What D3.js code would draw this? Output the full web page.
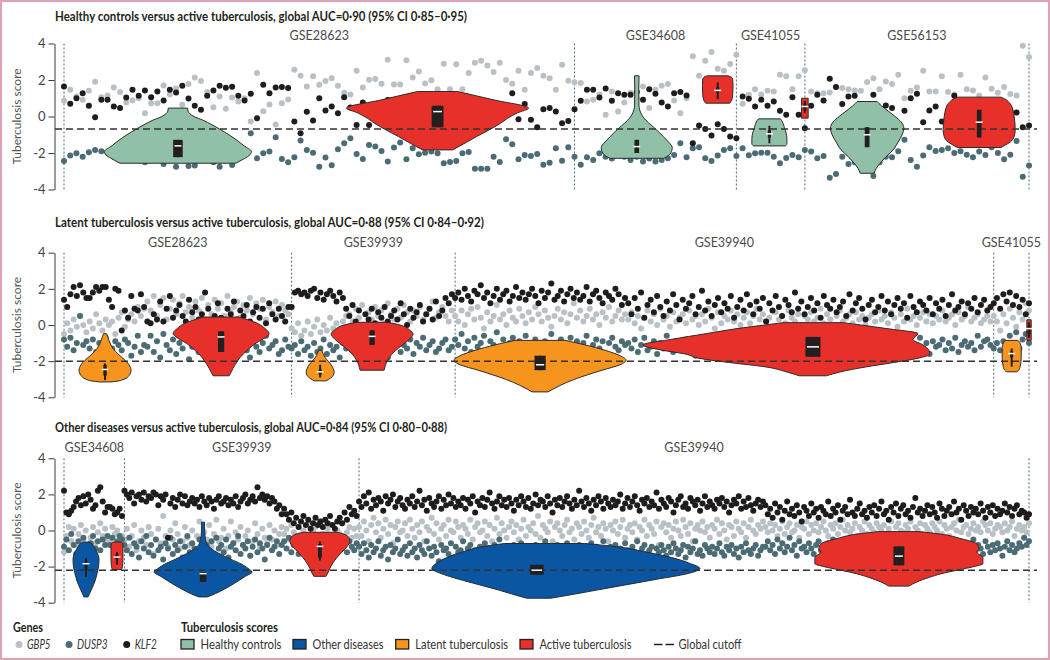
<!DOCTYPE html>
<html><head><meta charset="utf-8">
<script src="https://cdn.jsdelivr.net/npm/d3@7/dist/d3.min.js"></script>
<style>
html,body{margin:0;padding:0;background:#fff;}
svg{display:block;}
text{font-family:Lato,"Open Sans",sans-serif;}
</style></head><body>
<svg id="chart" width="1050" height="660"></svg>
<script>
// ================= DATA =================
const yTicks=[-4,-2,0,2,4];
const geneNames=["GBP5","DUSP3","KLF2"];
const groupNames=["Healthy controls","Other diseases","Latent tuberculosis","Active tuberculosis"];
const cutoffLabel="Global cutoff";
const yLabel="Tuberculosis score";

// ---- Panel 1: healthy controls vs active TB ----
const p1Title="Healthy controls versus active tuberculosis, global AUC=0·90 (95% CI 0·85–0·95)";
const p1Cutoff=-0.68;
const p1Datasets=[["GSE28623",0,82],["GSE34608",82,108],["GSE41055",108,119],["GSE56153",119,155]];
const p1Separators=[0,82,108,119,155];
const p1GBP5=[0.86,1.47,1.1,0.92,1.41,1.9,1.06,1.15,1.59,1.34,
0.77,0.88,1.0,0.18,0.73,0.73,1.70,1.2,1.54,0.64,
1.78,2.14,1.94,1.34,0.51,1.10,0.42,1.04,0.82,1.0,
-0.27,2.38,0.29,0.66,-0.44,0.73,0.93,2.56,2.23,1.65,
2.2,1.74,1.94,2.1,1.68,1.3,1.2,2.51,1.59,2.01,
2.05,1.79,3.11,1.76,1.76,3.08,2.14,2.47,1.81,1.99,
1.5,2.89,1.5,2.86,1.5,2.38,2.95,3.06,2.8,2.44,
2.95,2.0,1.8,2.51,1.47,2.38,2.66,2.23,2.1,1.47,
2.84,1.96,1.87,1.83,0.82,0.92,1.2,0.09,1.37,0.27,
0.77,1.3,1.0,1.65,0.46,1.47,1.68,1.78,0.88,0.18,
1.0,3.3,2.23,3.06,3.53,2.62,2.51,2.88,3.39,0.7,
1.19,1.5,1.2,1.41,1.37,2.29,2.2,1.5,2.2,2.53,
1.37,1.28,1.28,1.32,1.6,1.56,1.5,1.43,1.41,1.89,
2.1,1.5,1.92,1.78,2.29,1.0,1.41,1.59,2.51,1.37,
1.37,2.2,1.34,1.2,2.29,1.5,1.43,1.14,2.14,1.52,
1.3,1.61,1.23,1.15,3.88,3.26];
const p1DUSP3=[-2.44,-2.14,-2.01,-2.2,-1.96,-1.83,-1.9,-2.0,-2.2,-2.3,
-2.1,-2.4,-2.2,-2.5,-2.3,-2.1,-2.6,-2.4,-2.75,-2.3,
-2.71,-2.69,-2.4,-2.2,-2.5,-2.75,-2.3,-2.66,-2.2,-2.1,
-0.92,-2.29,-2.01,-1.92,-1.14,-2.33,-2.51,-2.23,-1.32,-1.83,
-1.98,-2.75,-2.25,-2.67,-1.79,-1.47,-1.19,-2.05,-2.33,-1.56,
-1.65,-1.89,-2.47,-1.70,-1.43,-2.34,-1.74,-2.07,-1.98,-1.92,
-2.01,-2.56,-2.49,-2.44,-2.01,-1.94,-2.86,-2.86,-2.86,-2.2,
-2.49,-1.25,-1.52,-2.34,-2.11,-2.16,-2.05,-2.64,-2.53,-1.74,
-2.42,-1.68,-2.2,-2.64,-2.23,-2.38,-2.01,-2.2,-2.3,-2.1,
-2.2,-2.38,-2.2,-2.47,-2.3,-2.47,-2.38,-2.29,-2.11,-1.47,
-2.23,-1.74,-1.68,-2.29,-2.44,-2.14,-1.83,-1.74,-2.16,-1.74,
-2.12,-2.01,-1.98,-1.98,-2.2,-2.56,-2.27,-2.11,-2.23,-1.83,
-1.92,-2.29,-2.16,-3.35,-3.15,-2.2,-2.6,-2.5,-2.3,-2.0,
-3.26,-2.5,-2.2,-2.23,-1.9,-1.28,-2.38,-2.75,-2.14,-1.68,
-1.89,-1.83,-1.74,-2.0,-1.9,-2.1,-2.23,-1.92,-2.11,-1.68,
-2.0,-2.34,-2.1,-1.34,-3.3,-2.69];
const p1KLF2=[1.65,0.70,1.0,1.28,0.59,-0.04,0.92,0.92,0.55,0.46,
1.04,1.47,1.14,1.43,1.06,1.37,0.88,1.47,1.32,1.68,
0.99,0.59,0.37,1.14,1.43,1.68,1.58,1.63,1.14,0.88,
1.25,-0.09,1.74,1.28,1.59,1.61,1.56,-0.27,-0.92,0.26,
-0.22,1.0,0.33,0.55,0.18,1.06,0.5,-0.46,0.77,-0.46,
0.6,0.2,0.9,0.4,0.1,0.8,0.3,1.0,0.5,0.2,
0.7,0.4,0.9,0.1,0.6,0.3,0.8,0.5,0.2,0.5,
0.4,0.4,1.28,-0.15,0.68,-0.18,-0.59,0.40,0.46,0.27,
-0.37,-0.24,0.40,0.86,1.47,1.47,1.04,1.54,0.86,1.28,
1.19,1.19,1.34,0.92,1.5,1.25,0.77,0.55,1.28,1.34,
1.15,-1.47,-0.49,-0.68,-1.04,-0.42,-0.68,-1.1,-1.19,1.1,
0.97,0.55,0.92,0.59,0.82,0.31,0.09,1.06,0.09,-0.64,
0.59,1.19,0.88,2.07,1.61,0.68,1.1,1.14,0.5,0.3,
1.19,0.2,0.6,0.46,-0.51,0.31,1.0,1.25,-0.31,0.33,
0.55,-0.27,0.3,1.14,0.4,0.1,0.8,-0.2,0.5,0.2,
0.7,0.0,0.3,0.22,-0.59,-0.49];
// violins: shape = [score, half-density] or [score, left density, right density]; box = [low whisker, q1, median, q3, high whisker]
const p1Violins=[
 {group:"Healthy controls",at:18.3,shape:[[0.46,9.7],[0.3,10],[0.15,12],[0,16],[-0.2,25],[-0.45,34],[-0.7,42],[-1.0,51],[-1.3,59],[-1.6,66],[-1.92,73.5],[-2.15,71],[-2.35,65],[-2.56,58]],box:[-2.23,-2.23,-1.61,-1.28,-1.28]},
 {group:"Active tuberculosis",at:60.0,shape:[[1.37,20],[0.9,57],[0.46,91],[0.2,80],[-0.1,70],[-0.37,63],[-0.75,51],[-1.1,39],[-1.5,26],[-1.83,15]],box:[-0.59,-0.59,0.27,0.59,0.59]},
 {group:"Healthy controls",at:92.0,shape:[[2.23,2.3],[1.5,2],[0.6,2.2],[0.2,4],[-0.2,9],[-0.5,15],[-0.9,23],[-1.3,30],[-1.7,35.5],[-2.0,34],[-2.2,30],[-2.29,27]],box:[-2.0,-2.0,-1.65,-1.28,-1.28]},
 {group:"Active tuberculosis",at:105.0,shape:[[2.23,10],[2.18,13],[2.05,15],[1.7,15.3],[1.2,15],[0.9,14],[0.73,12]],box:[0.95,1.3,1.43,1.6,1.87]},
 {group:"Healthy controls",at:113.3,shape:[[-0.13,11],[-0.2,12],[-0.6,15],[-1.2,17.5],[-1.5,17.5],[-1.61,16]],box:[-1.47,-1.15,-0.95,-0.75,-0.51]},
 {group:"Active tuberculosis",at:119.0,shape:[[1.0,3.3],[-0.09,3.3]],box:[0.2,0.35,0.55,0.7,0.85]},
 {group:"Healthy controls",at:129.0,shape:[[0.82,10],[0.6,14],[0.3,21],[0,28],[-0.3,34],[-0.64,36.7],[-1.0,35],[-1.4,31],[-1.83,26],[-2.2,19],[-2.56,13],[-2.85,9],[-3.11,7]],box:[-1.68,-1.68,-1.0,-0.59,-0.59]},
 {group:"Active tuberculosis",at:147.0,shape:[[1.06,21.7],[0.95,26],[0.7,31],[0.3,34],[0,35],[-0.73,36],[-1.1,35],[-1.4,31],[-1.6,25],[-1.7,21.7]],box:[-1.15,-1.15,-0.31,0.37,0.37]}
];

// ---- Panel 2: latent vs active TB ----
const p2Title="Latent tuberculosis versus active tuberculosis, global AUC=0·88 (95% CI 0·84–0·92)";
const p2Cutoff=-2.0;
const p2Datasets=[["GSE28623",0,71],["GSE39939",71,122],["GSE39940",122,290],["GSE41055",290,301]];
const p2Separators=[0,71,122,290,301];
const p2GBP5=[-0.5,0.1,-0.3,0.3,-0.1,0.5,0.0,-0.4,0.2,-0.2,0.6,0.1,-0.3,0.3,0.0,0.2,-0.5,0.4,0.7,-0.1,0.3,0.6,0.2,1.0,0.5,0.9,
1.3,0.8,1.6,0.5,1.1,1.5,0.3,0.9,1.4,0.6,1.2,1.6,0.7,1.0,0.4,1.3,0.8,1.5,0.2,1.1,0.6,1.4,0.9,1.2,0.5,1.6,0.7,1.0,1.3,0.4,1.1,0.8,1.5,0.6,1.2,0.9,1.4,0.3,1.0,0.7,1.3,0.5,1.1,0.8,0.6,
-0.2,-0.4,0.1,-0.6,-0.3,0.2,-0.5,-0.1,0.3,-0.4,0.0,-0.3,0.4,-0.2,0.1,-0.5,0.2,0.5,
0.6,0.2,0.9,0.4,1.1,0.0,0.7,0.3,1.0,0.5,0.8,0.1,1.2,0.6,0.3,0.9,0.4,1.1,0.7,0.2,0.8,0.5,1.0,0.3,0.6,0.9,1.3,0.4,0.7,1.0,0.5,0.2,0.8,
0.5,0.2,0.8,0.0,0.6,0.9,0.3,1.0,0.4,-0.2,0.7,0.2,0.5,1.1,0.3,0.6,0.0,0.8,0.4,0.2,0.9,0.5,0.1,0.7,0.3,1.0,0.6,0.2,0.8,0.4,-0.1,0.5,0.9,0.3,0.7,0.1,0.6,1.2,0.4,0.8,0.2,0.5,0.9,0.3,0.6,0.0,0.7,0.4,1.0,0.2,0.5,0.8,0.3,0.6,
0.3,0.7,0.1,0.5,-0.2,0.4,0.8,0.2,0.6,0.0,0.9,0.3,0.5,-0.1,0.7,0.2,0.4,0.6,0.1,
0.8,0.3,0.5,0.0,0.6,0.2,0.9,0.4,-0.2,0.7,0.1,0.5,0.3,0.8,0.2,0.6,0.0,0.4,0.7,
0.1,0.5,0.9,0.3,0.6,0.2,0.4,-0.1,0.7,0.3,0.5,0.1,0.8,0.4,0.2,0.6,0.0,0.5,0.3,
0.7,0.2,0.4,0.9,0.1,0.6,0.3,-0.3,0.5,0.8,0.2,0.4,0.6,0.1,0.7,0.3,0.5,0.0,0.4,
0.6,0.2,0.8,0.3,0.5,0.1,0.7,0.4,-0.1,0.6,0.2,0.9,0.3,0.5,0.0,0.4,0.7,0.2,0.6,
0.1,0.5,0.3,0.8,0.2,0.4,0.6,0.0,0.7,0.3,0.5,1.0,0.2,0.4,0.6,0.1,0.3,0.5,0.2,
0.5,0.2,-0.3,0.6,0.1,0.9,0.4,-0.1,0.7,0.3,1.2,0.8];
const p2DUSP3=[-0.8,-1.2,-0.7,-1.4,-1.0,0.5,-1.1,-0.9,-1.3,-0.8,-1.5,-1.0,-1.2,-0.7,-1.6,-1.3,-0.9,-1.1,-1.4,-0.8,-1.0,-1.7,-1.2,-0.6,-1.5,-1.1,
-1.2,-0.6,-1.5,-0.9,-1.8,-0.5,-1.1,-1.4,-0.8,-1.6,-1.0,-1.3,-0.7,-1.9,-1.2,-0.9,-1.5,-1.1,-0.6,-1.4,-1.0,-1.7,-0.8,-1.3,-1.1,-1.6,-0.9,-1.2,-1.5,-0.7,-1.0,-1.4,-1.8,-0.8,-1.2,-1.5,-1.0,-0.6,-1.3,-1.1,-0.9,-1.6,-1.4,-0.8,-1.2,
-1.3,-1.1,-1.6,-0.9,-1.4,-1.2,-1.7,-1.0,-1.5,-1.3,-0.8,-1.6,-1.1,-1.4,-1.2,-1.8,-1.0,-1.3,
-0.9,-1.3,-0.6,-1.5,-1.0,-1.2,-0.8,-1.6,-1.1,-0.7,-1.4,-1.0,-1.8,-0.9,-1.2,-0.6,-1.5,-1.1,-1.3,-0.8,-1.6,-1.0,-1.2,-0.7,-1.4,-1.1,-0.9,-1.5,-1.3,-1.0,-0.8,-1.4,-1.2,
-0.8,-1.1,-0.5,-1.3,-0.9,-1.5,-0.7,-1.2,-1.0,-0.6,-1.4,-0.9,-1.1,-0.4,-1.3,-0.8,-1.6,-1.0,-0.7,-1.2,-0.9,-1.5,-0.6,-1.1,-1.3,-0.8,-1.0,-1.7,-0.9,-1.2,-0.5,-1.4,-1.0,-0.8,-1.3,-1.1,-0.7,-1.5,-0.9,-1.2,-1.0,-0.6,-1.4,-1.1,-0.8,-1.3,-0.9,-1.6,-1.0,-0.7,-1.2,-1.4,-0.9,-1.1,
-1.0,-1.3,-0.8,-1.5,-1.1,-0.7,-1.4,-1.2,-0.9,-1.6,-1.0,-1.3,-0.6,-1.2,-1.5,-0.9,-1.1,-1.4,-0.8,
-1.2,-1.0,-1.7,-0.9,-1.3,-1.1,-0.7,-1.5,-1.0,-1.2,-0.8,-1.4,-1.1,-0.9,-1.6,-1.0,-1.3,-0.6,-1.2,
-1.5,-0.9,-1.1,-1.3,-0.8,-1.4,-1.0,-1.2,-1.8,-0.9,-1.1,-1.5,-0.7,-1.3,-1.0,-1.2,-0.8,-1.6,-1.1,
-0.9,-1.4,-1.0,-1.2,-0.7,-1.3,-1.5,-0.9,-1.1,-1.0,-1.4,-0.8,-1.2,-1.6,-1.0,-1.3,-0.9,-1.1,-1.5,
-0.8,-1.2,-1.0,-1.4,-0.9,-1.7,-1.1,-1.3,-0.8,-1.0,-1.5,-1.2,-0.9,-1.4,-1.1,-0.7,-1.3,-1.0,-1.6,
-0.9,-1.2,-1.1,-0.8,-1.4,-1.0,-1.3,-0.7,-1.5,-1.1,-0.9,-1.2,-1.0,-1.4,-0.6,-1.2,-0.9,-0.8,-1.1,
-1.3,-1.0,-1.4,-0.9,-1.2,-0.6,-1.1,-0.4,-1.3,-0.8,-0.5,-1.0];
const p2KLF2=[1.4,1.0,1.7,2.1,1.6,2.2,1.8,1.5,1.5,1.8,2.1,1.9,2.1,2.1,1.4,1.0,2.0,1.9,-0.3,0.8,0.4,1.6,0.9,0.8,1.7,1.0,
0.2,0.1,0.6,0.3,1.3,0.2,0.9,1.6,0.4,0.8,1.1,0.5,0.2,1.4,0.7,1.0,0.3,0.6,1.8,0.9,0.2,0.5,1.2,0.4,0.1,0.9,0.6,1.3,0.3,0.8,0.5,1.1,0.2,0.7,1.0,0.4,0.9,0.1,1.2,0.6,0.3,0.9,0.5,0.2,1.0,
1.0,1.8,1.9,1.7,1.8,1.6,1.9,2.0,1.5,1.8,1.4,1.7,1.9,1.6,1.3,1.8,1.5,0.9,
0.5,1.1,0.2,0.8,-0.2,0.6,0.3,0.9,0.1,0.7,0.4,1.0,0.2,0.5,0.8,0.3,1.2,0.6,0.0,0.9,0.4,0.7,1.1,0.2,0.6,0.9,0.3,1.3,0.5,0.8,1.5,1.2,1.7,
1.5,1.8,1.4,2.0,1.6,1.3,1.9,1.7,2.2,1.5,1.8,1.2,1.6,2.0,1.4,1.7,1.9,1.3,1.6,2.1,1.5,1.8,1.4,1.7,2.0,1.6,1.2,1.9,1.5,1.8,2.3,1.4,1.6,1.9,1.3,1.7,2.0,1.5,1.8,1.4,1.6,2.1,1.3,1.7,1.9,1.5,1.2,1.8,1.6,1.4,2.0,1.7,1.1,1.5,
1.2,0.6,1.5,0.9,1.8,0.4,1.1,1.4,0.7,1.6,1.0,0.5,1.3,0.8,1.7,1.1,0.3,1.4,0.9,
1.2,1.6,0.6,1.0,1.9,0.8,1.3,0.5,1.1,1.5,0.7,1.2,0.9,1.6,0.4,1.0,1.4,0.8,1.7,
1.1,0.6,1.3,0.9,1.5,0.2,1.2,0.8,1.6,1.0,0.5,1.4,1.1,0.7,1.8,0.9,1.3,0.6,1.0,
1.5,0.8,1.2,0.4,1.6,1.1,0.9,1.4,0.7,1.0,1.3,0.5,1.7,0.8,1.2,1.5,0.9,0.3,1.1,
1.4,0.7,1.0,1.6,0.8,1.3,0.6,1.1,1.5,0.9,1.2,0.4,1.6,1.0,0.7,1.3,1.1,0.8,1.5,
0.6,1.2,0.9,1.4,0.5,1.1,1.7,0.8,1.0,1.3,0.6,1.2,0.9,1.5,0.7,1.1,1.4,0.8,1.0,
1.2,1.5,0.9,1.7,1.3,1.8,1.1,1.6,1.0,1.4,0.6,1.2];
const p2Violins=[
 {group:"Latent tuberculosis",at:12.8,shape:[[-0.48,1.5],[-0.7,3],[-1.0,5],[-1.3,8],[-1.6,13],[-1.9,19],[-2.2,24],[-2.5,26],[-2.8,24],[-3.0,19],[-3.1,13],[-3.15,6]],box:[-3.05,-2.8,-2.46,-2.2,-2.13]},
 {group:"Active tuberculosis",at:49.0,shape:[[0.44,18],[0.3,26],[0.1,36],[-0.2,44],[-0.48,48],[-0.7,44],[-1.0,35],[-1.4,26],[-1.8,19],[-2.2,14],[-2.6,10],[-2.81,8]],box:[-1.49,-1.49,-0.66,-0.35,-0.35]},
 {group:"Latent tuberculosis",at:79.9,shape:[[-1.4,1.5],[-1.6,3],[-1.8,5],[-2.0,8],[-2.2,11],[-2.4,13],[-2.6,14],[-2.8,13],[-2.95,10],[-3.09,6]],box:[-2.9,-2.75,-2.59,-2.45,-2.2]},
 {group:"Active tuberculosis",at:96.1,shape:[[0.15,15],[0.0,28],[-0.3,38],[-0.5,41],[-0.8,37],[-1.2,28],[-1.6,20],[-2.0,15],[-2.5,12]],box:[-1.1,-1.1,-0.63,-0.3,-0.3]},
 {group:"Latent tuberculosis",at:148.5,shape:[[-0.85,25],[-1.1,45],[-1.4,65],[-1.7,80],[-1.95,86],[-2.2,80],[-2.5,62],[-2.8,45],[-3.1,30],[-3.4,18],[-3.7,8]],box:[-2.5,-2.5,-2.2,-1.7,-1.7]},
 {group:"Active tuberculosis",at:233.6,shape:[[0.13,30,30],[0.0,48,48],[-0.2,76,74],[-0.47,106,105],[-0.8,142,100],[-1.1,170,110],[-1.4,150,116],[-1.6,128,117],[-1.85,113,104],[-2.1,80,78],[-2.31,48,54],[-2.6,26,27],[-2.81,13.5,13.5]],box:[-1.76,-1.76,-1.21,-0.66,-0.66]},
 {group:"Latent tuberculosis",at:295.6,shape:[[-0.85,6],[-0.95,8],[-1.3,9.5],[-1.8,9.5],[-2.3,8.5],[-2.5,7],[-2.59,5]],box:[-2.3,-1.8,-1.58,-1.45,-1.3]},
 {group:"Active tuberculosis",at:301,shape:[[0.29,2.2],[-0.85,2.2]],box:[-0.7,-0.5,-0.2,0.0,0.15]}
];

// ---- Panel 3: other diseases vs active TB ----
const p3Title="Other diseases versus active tuberculosis, global AUC=0·84 (95% CI 0·80–0·88)";
const p3Cutoff=-2.2;
const p3Datasets=[["GSE34608",0,25],["GSE39939",25,122],["GSE39940",122,399]];
const p3Separators=[0,25,122,399];
const p3GBP5=[-1.2,-0.3,0.2,-0.6,0.1,-0.8,-0.2,0.3,-0.5,0.0,-0.9,-0.4,0.2,-0.7,-0.1,0.4,-0.3,0.1,-0.6,
-0.5,0.2,-0.2,0.0,-0.6,-0.3,
-0.5,0.1,-0.9,-0.3,0.3,-1.1,-0.6,0.0,-0.4,-0.8,0.2,-0.2,-1.3,-0.5,0.1,-0.7,0.8,-0.3,-0.9,0.0,-0.5,0.4,-0.2,-1.0,-0.6,0.2,-0.4,-0.8,0.0,-1.2,-0.3,0.5,-0.7,-0.1,-0.5,0.3,-0.9,-0.2,0.6,-0.6,-0.4,0.1,-1.0,-0.3,0.5,-0.7,-0.1,-0.5,0.2,-0.8,-0.3,0.0,-1.4,-0.6,0.4,-0.2,-0.9,0.1,-0.4,-0.7,0.3,-0.5,0.0,-0.8,-0.2,0.2,
-0.2,0.1,-0.5,0.3,-0.1,-0.7,0.2,-0.4,0.0,-0.3,0.4,-0.6,-0.1,0.2,-0.4,0.5,-0.2,-0.8,0.1,-0.3,0.3,-0.5,0.0,-0.2,0.4,-0.6,-0.1,0.2,-0.4,0.1,-0.3,
0.2,-0.3,0.5,0.0,-0.6,0.3,0.7,-0.1,0.4,-0.4,0.1,0.6,-0.2,0.3,-0.7,0.2,0.5,-0.1,0.0,0.4,-0.3,
0.6,0.1,-0.4,0.3,-0.1,0.5,-0.6,0.2,0.0,0.7,-0.2,0.4,-0.5,0.1,0.3,-0.3,0.6,0.0,-0.1,0.5,0.2,
-0.4,0.3,0.1,-0.2,0.6,-0.5,0.2,0.4,-0.1,0.0,0.5,-0.3,0.3,-0.6,0.1,0.7,-0.2,0.4,0.0,-0.4,0.2,
0.5,-0.1,0.3,-0.5,0.1,0.6,-0.3,0.2,0.0,0.4,-0.2,0.8,-0.4,0.3,0.1,-0.1,0.5,-0.6,0.2,0.4,0.0,
-0.3,0.3,0.6,-0.1,0.1,-0.5,0.4,0.2,-0.2,0.5,0.0,-0.4,0.3,0.7,-0.1,0.2,-0.3,0.4,0.1,-0.6,0.3,
0.0,0.5,-0.2,0.2,0.6,-0.4,0.1,0.3,-0.1,0.4,-0.5,0.2,0.0,0.6,-0.3,0.3,0.1,-0.2,0.5,-0.8,0.2,
0.4,-0.1,0.3,-0.4,0.1,0.5,0.0,-0.3,0.6,0.2,-0.2,0.4,-0.6,0.1,0.3,0.0,0.5,-0.1,0.2,-0.4,0.3,
0.1,0.6,-0.2,0.4,0.0,-0.5,0.3,0.2,-0.3,0.5,0.1,-0.1,0.4,-0.4,0.2,0.6,0.0,-0.2,0.3,0.1,0.5,
0.2,-0.1,0.4,0.0,0.3,-0.3,0.1,0.5,-0.2,0.2,0.4,-0.1,0.0,0.3,-0.4,0.2,0.1,0.5,-0.2,0.3,0.0,0.4,
-0.1,0.2,0.5,0.0,-0.3,0.3,0.1,0.4,-0.2,0.2,0.6,0.0,0.3,-0.1,0.1,0.4,-0.3,0.2,0.0,0.5,-0.2,0.3,
0.1,-0.1,0.4,0.2,0.0,0.3,-0.4,0.1,0.5,-0.2,0.2,0.4,0.0,-0.1,0.3,0.1,0.5,-0.3,0.2,0.0,0.4,-0.2,
0.3,0.1,-0.1,0.4,0.2,0.0,0.5,-0.2,0.3,0.1,-0.3,0.2,0.4,0.0,0.6,-0.1,0.2,0.3,-0.2,0.1,0.4,0.0,
0.2,-0.1,0.5,0.3,0.0,0.4,-0.2,0.1,0.3,0.2,-0.1,0.4,0.0,0.2,0.5,-0.3,0.1,0.3,0.0,0.2,-0.1,0.4];
const p3DUSP3=[-0.9,-0.5,-1.1,-0.2,-0.8,-1.3,-0.6,-1.0,-0.4,-0.9,-1.2,-0.7,-0.3,-1.0,-0.6,-1.1,-0.5,-0.8,-0.3,
-0.8,-0.4,-1.0,-0.6,-0.3,-0.5,
-0.8,-1.1,-0.4,-1.3,-0.7,-0.9,-1.5,-0.6,-1.0,-0.3,-1.2,-0.8,-1.4,-0.5,-1.1,-0.9,-1.6,-0.7,-1.0,-0.4,-1.3,-0.8,-1.1,-0.6,-1.5,-0.9,-0.3,-1.2,-0.7,-1.0,-1.4,-0.5,-0.9,-1.7,-0.8,-1.1,-0.6,-1.3,-0.4,-1.0,-0.8,-1.2,-0.5,-1.5,-0.9,-0.7,-1.1,-0.3,-1.3,-0.8,-1.0,-0.6,-1.4,-0.9,-0.5,-1.2,-0.7,-1.0,-1.6,-0.8,-0.4,-1.1,-0.9,-0.6,-1.3,-0.8,
-0.6,-1.0,-0.4,-1.2,-0.8,-0.5,-1.3,-0.9,-0.6,-1.1,-0.7,-1.4,-0.5,-0.9,-1.0,-0.6,-1.2,-0.8,-0.4,-1.1,-0.7,-1.3,-0.9,-0.5,-1.0,-0.8,-1.2,-0.6,-0.9,-1.1,-0.7,
-0.9,-1.3,-0.7,-1.1,-1.5,-0.8,-1.2,-1.0,-0.6,-1.4,-1.1,-0.9,-1.6,-0.8,-1.2,-1.0,-0.5,-1.3,-1.1,-0.9,-1.4,
-0.7,-1.2,-1.0,-1.5,-0.8,-1.1,-1.3,-0.6,-1.0,-1.4,-0.9,-1.2,-1.7,-0.8,-1.1,-1.0,-1.3,-0.7,-1.5,-0.9,-1.2,
-1.1,-0.6,-1.4,-1.0,-0.8,-1.3,-1.1,-1.6,-0.9,-1.2,-0.7,-1.0,-1.4,-1.1,-0.8,-1.3,-0.5,-1.2,-1.0,-1.5,-0.9,
-1.2,-0.8,-1.1,-1.4,-0.7,-1.0,-1.3,-0.9,-1.6,-1.1,-0.8,-1.2,-1.0,-1.5,-0.6,-1.3,-0.9,-1.1,-1.4,-0.8,-1.2,
-1.0,-1.3,-0.7,-1.1,-1.5,-0.9,-1.2,-0.8,-1.4,-1.0,-1.8,-1.1,-0.7,-1.3,-0.9,-1.2,-1.0,-0.6,-1.4,-1.1,-0.9,
-1.3,-0.8,-1.2,-1.0,-1.5,-0.7,-1.1,-1.3,-0.9,-1.2,-0.6,-1.4,-1.0,-0.8,-1.3,-1.1,-0.9,-1.6,-1.0,-1.2,-0.8,
-1.1,-1.4,-0.9,-1.2,-0.7,-1.0,-1.3,-1.1,-0.8,-1.5,-0.9,-1.2,-1.0,-0.6,-1.3,-1.1,-1.4,-0.8,-1.0,-1.2,-0.9,
-1.3,-1.0,-0.7,-1.2,-1.4,-0.9,-1.1,-0.8,-1.3,-1.0,-1.5,-0.9,-1.2,-0.7,-1.1,-1.3,-1.0,-0.8,-1.4,-1.1,-0.9,
-0.9,-0.6,-1.1,-0.8,-1.3,-0.5,-1.0,-0.7,-1.2,-0.9,-0.4,-1.1,-0.8,-1.4,-0.6,-1.0,-0.9,-1.2,-0.7,-1.0,-1.3,-0.8,
-0.6,-1.1,-0.9,-1.4,-0.7,-1.0,-0.5,-1.2,-0.8,-1.1,-0.9,-0.6,-1.3,-1.0,-0.7,-1.2,-0.9,-1.5,-0.8,-1.0,-0.6,-1.1,
-1.2,-0.8,-1.0,-0.5,-1.3,-0.9,-0.7,-1.1,-1.0,-0.6,-1.4,-0.8,-1.2,-0.9,-0.7,-1.0,-1.3,-0.8,-1.1,-0.6,-0.9,-1.2,
-0.7,-1.0,-1.3,-0.8,-1.1,-0.5,-0.9,-1.2,-1.0,-0.7,-1.4,-0.9,-0.6,-1.1,-0.8,-1.3,-1.0,-0.7,-1.2,-0.9,-0.5,-1.1,
-0.8,-1.0,-1.3,-0.6,-0.9,-1.2,-0.8,-1.1,-0.7,-1.0,-1.4,-0.9,-0.6,-1.1,-0.8,-1.2,-1.0,-0.7,-0.9,-0.4,-0.8,-0.6];
const p3KLF2=[2.2,1.0,0.9,1.1,1.3,1.6,1.8,1.4,1.9,1.5,2.0,1.7,1.2,1.4,2.2,2.4,1.6,1.0,1.3,
1.3,1.2,0.9,1.0,1.2,0.8,
2.2,2.0,1.8,2.1,1.5,1.9,2.0,1.7,2.1,1.6,1.9,1.8,2.1,2.0,1.4,1.9,1.7,2.0,-0.4,1.5,1.8,1.3,1.7,2.0,1.5,1.9,1.4,1.6,1.8,1.5,1.7,1.3,1.9,1.6,1.4,1.8,1.6,1.2,1.7,1.9,1.5,1.6,1.8,1.4,1.7,1.5,1.9,1.3,1.6,1.8,2.0,1.5,1.7,1.9,1.6,2.4,1.8,2.0,1.7,1.9,1.5,1.8,1.6,1.2,1.4,0.9,
1.2,0.9,0.6,1.0,0.4,0.7,0.2,0.5,0.8,0.3,0.6,0.1,0.4,0.7,0.3,0.5,0.2,0.6,0.4,0.8,0.3,0.1,0.5,0.7,0.4,1.0,0.6,1.3,0.9,1.1,0.8,
1.6,1.3,1.9,1.5,2.1,1.2,1.7,1.4,1.8,1.6,1.1,1.9,1.5,1.7,2.0,1.3,1.6,1.8,1.4,1.2,1.7,
1.5,1.9,1.3,1.6,2.2,1.4,1.7,1.1,1.8,1.5,1.3,1.6,1.9,1.2,1.7,1.4,2.0,1.5,1.8,1.3,1.6,
1.4,1.8,1.2,1.7,1.5,1.9,1.0,1.6,1.4,1.8,1.3,1.7,2.1,1.5,1.2,1.6,1.9,1.4,1.7,1.3,1.8,
1.5,1.1,1.7,1.4,1.9,1.6,1.3,1.8,1.2,1.5,2.0,1.4,1.7,1.6,1.3,1.9,1.5,1.0,1.7,1.4,1.8,
1.3,1.6,1.9,1.5,1.2,1.7,1.4,2.2,1.6,1.3,1.8,1.5,1.1,1.7,1.4,1.9,1.6,1.2,1.8,1.5,1.3,
1.7,1.4,1.6,2.0,1.2,1.5,1.8,1.3,1.6,1.9,1.4,1.1,1.7,1.5,1.8,1.3,1.6,1.4,2.1,1.2,1.7,
1.5,1.3,1.8,1.6,1.0,1.4,1.7,1.9,1.3,1.5,1.2,1.8,1.6,1.4,1.7,1.1,1.5,1.9,1.3,1.6,1.4,
1.2,1.7,1.5,1.8,1.3,1.6,1.0,1.4,1.7,1.5,1.9,1.2,1.6,1.3,1.8,1.4,1.1,1.5,1.7,1.3,1.6,
1.4,0.9,1.2,0.7,1.5,1.0,1.3,0.6,1.1,1.6,0.9,1.2,0.8,1.4,1.0,0.5,1.3,1.1,0.8,1.5,1.0,1.2,
0.7,1.3,1.1,0.9,1.6,0.8,1.2,1.0,1.4,0.6,1.1,1.3,0.9,1.7,1.0,0.8,1.2,1.5,0.9,1.1,0.7,1.3,
1.0,1.4,0.8,1.2,1.6,0.9,1.1,0.6,1.3,1.0,1.5,0.8,1.2,1.4,0.9,1.1,0.7,1.3,1.8,1.0,1.2,0.8,
1.1,1.4,0.9,1.3,1.0,0.7,1.5,1.2,0.8,1.1,1.3,0.9,1.6,1.0,1.2,0.6,1.4,1.1,0.8,1.3,1.0,1.2,
0.9,1.5,1.1,0.7,1.3,1.0,1.4,0.8,1.2,0.9,1.1,1.5,1.0,1.3,0.8,1.2,1.4,0.9,1.1,1.0,0.7,0.9];
const p3Violins=[
 {group:"Other diseases",at:9.1,shape:[[-0.64,3],[-0.75,6],[-0.9,8],[-1.2,11],[-1.6,13],[-2.0,12.5],[-2.4,11],[-2.8,9],[-3.2,6],[-3.5,3.5],[-3.68,2]],box:[-2.58,-2.2,-1.84,-1.7,-1.53]},
 {group:"Active tuberculosis",at:21.9,shape:[[-0.64,4],[-0.7,5.5],[-0.9,6],[-1.5,6],[-2.0,5.5],[-2.17,4.5]],box:[-1.9,-1.6,-1.47,-1.3,-1.2]},
 {group:"Other diseases",at:57.5,shape:[[0.46,1.5],[0.2,1.5],[-0.3,2],[-0.7,3.5],[-0.95,7],[-1.3,17],[-1.6,28],[-1.85,38],[-2.1,45],[-2.3,49],[-2.55,42],[-2.8,35],[-3.1,26],[-3.4,16],[-3.6,8],[-3.68,4]],box:[-2.85,-2.85,-2.39,-2.3,-2.3]},
 {group:"Active tuberculosis",at:105.8,shape:[[-0.1,17],[-0.2,24],[-0.4,29],[-0.6,30],[-0.9,27],[-1.2,22],[-1.5,17],[-1.8,13],[-2.1,10],[-2.4,7.5],[-2.54,6]],box:[-1.66,-1.5,-0.88,-0.75,-0.6]},
 {group:"Other diseases",at:195.5,shape:[[-0.72,32,48],[-0.9,55,80],[-1.2,75,110],[-1.5,90,135],[-1.8,100,152],[-2.1,105,163],[-2.4,95,150],[-2.7,78,120],[-3.0,58,90],[-3.3,38,60],[-3.6,20,30],[-3.75,10,14]],box:[-2.45,-2.45,-2.2,-1.9,-1.9]},
 {group:"Active tuberculosis",at:345.2,shape:[[-0.06,20],[-0.2,42],[-0.45,62],[-0.74,78],[-1.0,80],[-1.2,78],[-1.5,84],[-1.84,84],[-2.0,75],[-2.2,58],[-2.4,42],[-2.6,30],[-2.85,18],[-3.08,10]],box:[-1.93,-1.93,-1.42,-0.88,-0.88]}
];

// ================= RENDER =================
const W=1050,H=660;
const svg=d3.select("#chart");
svg.append("rect").attr("x",1).attr("y",1).attr("width",W-2).attr("height",H-2)
  .attr("fill","#fff").attr("stroke","#e3a0b4").attr("stroke-width",2);

const colorGene=d3.scaleOrdinal().domain(geneNames).range(["#b9c1c6","#4b6c75","#1e1c1d"]);
const colorGroup=d3.scaleOrdinal().domain(groupNames).range(["#90c0a6","#0b56a3","#f7941e","#e8302a"]);
const widthScale=d3.scaleLinear().domain([0,100]).range([0,100]); // density -> px
const leftW=d=>widthScale(d[1]);
const rightW=d=>widthScale(d.length>2?d[2]:d[1]);

const layout=[
  {top:43.5,bottom:189.5,titleY:20.5,labelY:39.5,titleW:412},
  {top:252.7,bottom:397.3,titleY:226.5,labelY:246.5,titleW:429},
  {top:458.3,bottom:602.7,titleY:431.5,labelY:452,titleW:392}
];
const panels=[
  {title:p1Title,cutoff:p1Cutoff,datasets:p1Datasets,seps:p1Separators,gbp5:p1GBP5,dusp3:p1DUSP3,klf2:p1KLF2,violins:p1Violins},
  {title:p2Title,cutoff:p2Cutoff,datasets:p2Datasets,seps:p2Separators,gbp5:p2GBP5,dusp3:p2DUSP3,klf2:p2KLF2,violins:p2Violins},
  {title:p3Title,cutoff:p3Cutoff,datasets:p3Datasets,seps:p3Separators,gbp5:p3GBP5,dusp3:p3DUSP3,klf2:p3KLF2,violins:p3Violins}
];

panels.forEach((p,k)=>{
  const L=layout[k];
  const n=p.klf2.length;
  const x=d3.scaleLinear().domain([0,n-1]).range([64,1029]);
  const y=d3.scaleLinear().domain([-4,4]).range([L.bottom,L.top]);
  const g=svg.append("g");

  g.append("text").attr("x",55).attr("y",L.titleY).attr("font-weight",700).attr("font-size",13.2)
    .attr("fill","#231f20").attr("textLength",L.titleW).attr("lengthAdjust","spacingAndGlyphs").text(p.title);

  const axis=d3.axisLeft(y).tickValues(yTicks).tickSize(6).tickSizeOuter(0).tickPadding(3)
    .tickFormat(d=>d<0?"-"+(-d):String(d));
  const ag=g.append("g").attr("transform","translate(54.5,0)").call(axis);
  ag.select(".domain").attr("stroke","#3a3a3a");
  ag.selectAll(".tick line").attr("stroke","#3a3a3a");
  ag.selectAll(".tick text").attr("font-size",13).attr("fill","#444").attr("font-family","Lato,sans-serif");

  g.append("text").attr("transform",`translate(21,${(L.top+L.bottom)/2}) rotate(-90)`)
    .attr("text-anchor","middle").attr("font-size",12).attr("fill","#555").text(yLabel);

  g.append("g").selectAll("line").data(p.seps).join("line")
    .attr("x1",d=>x(d)).attr("x2",d=>x(d)).attr("y1",y(4)).attr("y2",y(-4))
    .attr("stroke","#46707b").attr("stroke-width",1).attr("stroke-dasharray","2,2");

  g.append("g").selectAll("text").data(p.datasets).join("text")
    .attr("x",d=>x((d[1]+d[2])/2)).attr("y",L.labelY).attr("text-anchor","middle")
    .attr("font-size",12.5).attr("fill","#4a4a4a").text(d=>d[0]);

  [["GBP5",p.gbp5],["DUSP3",p.dusp3],["KLF2",p.klf2]].forEach(([name,vals])=>{
    g.append("g").selectAll("circle").data(vals).join("circle")
      .attr("cx",(d,i)=>x(i)).attr("cy",d=>y(d)).attr("r",3).attr("fill",colorGene(name));
  });

  const vg=g.append("g");
  p.violins.forEach(v=>{
    const cx=x(v.at);
    const area=d3.area().y(d=>y(d[0])).x0(d=>cx-leftW(d)).x1(d=>cx+rightW(d)).curve(d3.curveMonotoneY);
    vg.append("path").attr("d",area(v.shape)).attr("fill",colorGroup(v.group))
      .attr("stroke","#2b2b2b").attr("stroke-width",1);
  });

  g.append("line").attr("x1",55).attr("x2",1037).attr("y1",y(p.cutoff)).attr("y2",y(p.cutoff))
    .attr("stroke","#333").attr("stroke-width",1.5).attr("stroke-dasharray","7,4");

  const bg=g.append("g");
  p.violins.forEach(v=>{
    const cx=x(v.at);
    const maxW=d3.max(v.shape,d=>Math.min(leftW(d),rightW(d)));
    const bw=Math.max(3,Math.min(15,maxW*0.13));
    const [lo,q1,med,q3,hi]=v.box;
    bg.append("line").attr("x1",cx).attr("x2",cx).attr("y1",y(lo)).attr("y2",y(hi))
      .attr("stroke","#231f20").attr("stroke-width",2);
    bg.append("rect").attr("x",cx-bw/2).attr("y",y(q3)).attr("width",bw).attr("height",Math.max(1,y(q1)-y(q3)))
      .attr("fill","#231f20");
    const mw=Math.max(bw-3,7);
    bg.append("line").attr("x1",cx-mw/2).attr("x2",cx+mw/2).attr("y1",y(med)).attr("y2",y(med))
      .attr("stroke","#fff").attr("stroke-width",1.5);
  });
});

// ---- legend ----
const lg=svg.append("g");
const legendFont=12.5;
function legText(xp,yp,txt,w,opts){
  const t=lg.append("text").attr("x",xp).attr("y",yp).attr("font-size",legendFont).attr("fill",opts.fill||"#333")
    .attr("textLength",w).attr("lengthAdjust","spacingAndGlyphs").text(txt);
  if(opts.bold) t.attr("font-weight",700);
  if(opts.italic) t.attr("font-style","italic");
  return t;
}
legText(13,632,"Genes",30,{bold:true,fill:"#231f20"});
const geneLegendX=[19,69,126.7];
const geneTextW=[23.5,30.5,22];
geneNames.forEach((gname,i)=>{
  lg.append("circle").attr("cx",geneLegendX[i]).attr("cy",644.5).attr("r",3.5).attr("fill",colorGene(gname));
  legText(geneLegendX[i]+8,648.5,gname,geneTextW[i],{italic:true});
});
legText(181,632,"Tuberculosis scores",97,{bold:true,fill:"#231f20"});
const groupLegendX=[181,293,395.7,520];
const groupTextW=[81,71,93,92];
groupNames.forEach((gn,i)=>{
  lg.append("rect").attr("x",groupLegendX[i]).attr("y",639.5).attr("width",13).attr("height",9.5)
    .attr("fill",colorGroup(gn)).attr("stroke","#231f20").attr("stroke-width",1.3);
  legText(groupLegendX[i]+19.5,648.5,gn,groupTextW[i],{});
});
lg.append("line").attr("x1",654).attr("x2",674).attr("y1",644.5).attr("y2",644.5)
  .attr("stroke","#231f20").attr("stroke-width",1.6).attr("stroke-dasharray","8.5,3");
legText(678.5,648.5,cutoffLabel,63,{});
</script>
</body></html>
